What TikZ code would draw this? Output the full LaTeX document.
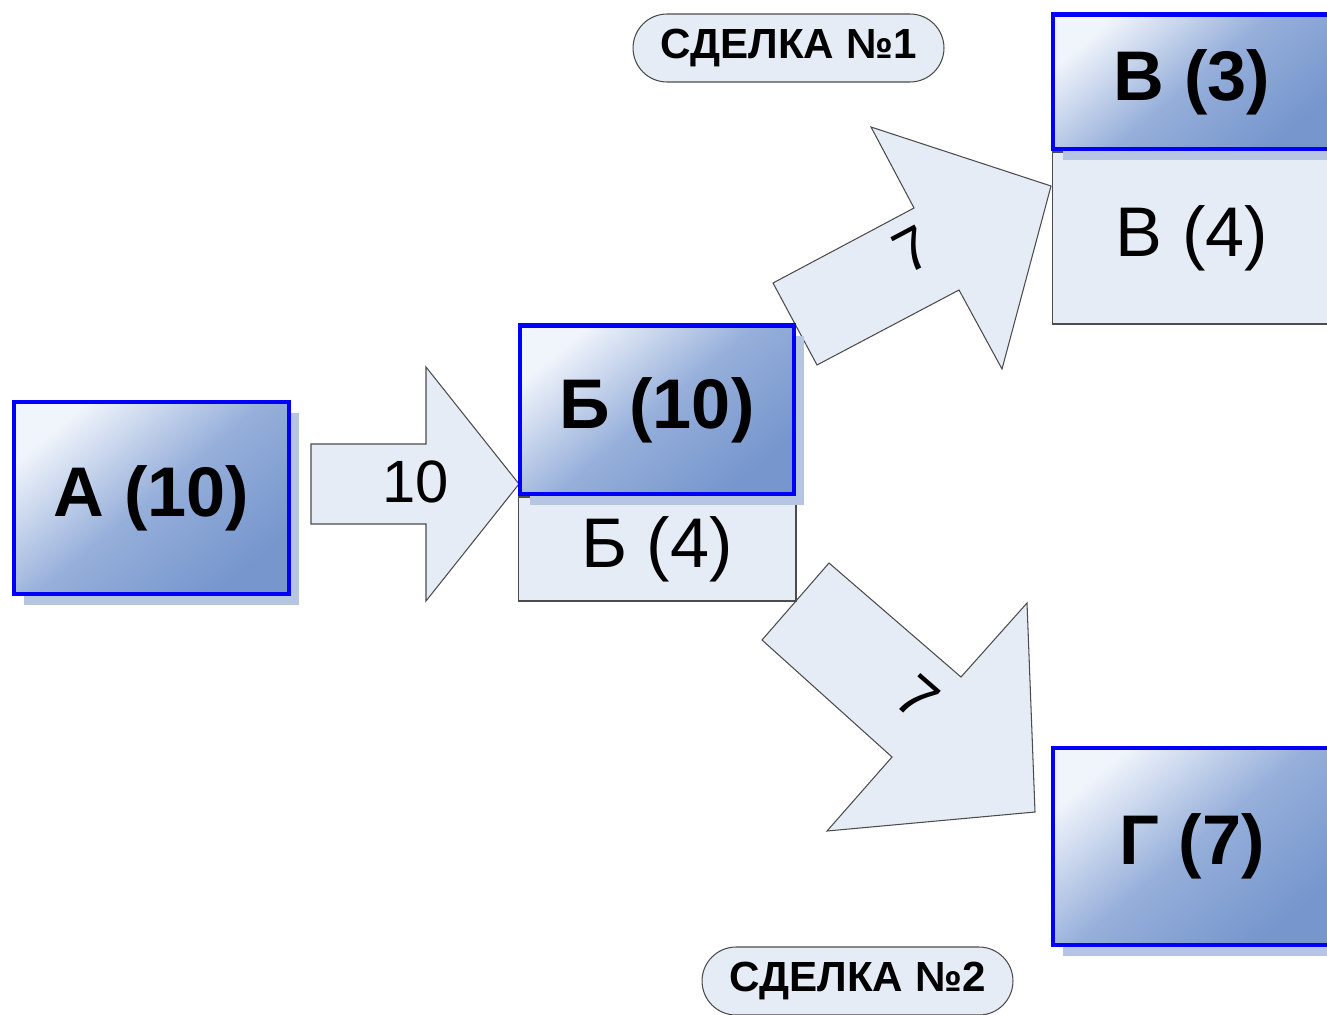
\documentclass[tikz,border=0pt]{standalone}
\usepackage{fontspec}
\setmainfont{Liberation Sans}
\usepackage{tikz}
\usetikzlibrary{positioning}
\usetikzlibrary{shadows}
\definecolor{lightfill}{RGB}{230,236,246}
\definecolor{shadowblue}{RGB}{182,198,226}
\definecolor{gradtop}{RGB}{240,244,251}
\definecolor{gradmid}{RGB}{150,175,218}
\definecolor{gradbot}{RGB}{118,150,205}
\definecolor{edgeblue}{RGB}{0,0,250}
\tikzset{%
  deal/.style = {rectangle,draw=edgeblue,line width=2.4pt,text=black,
        font=\fontsize{40}{48}\selectfont\bfseries,
        top color=gradtop,bottom color=gradbot,middle color=gradmid,
        shading angle=40,
        drop shadow={shadow xshift=0.2cm,shadow yshift=-0.22cm,
        fill=shadowblue,opacity=1}},
  rest/.style = {rectangle,draw=black!70,fill=lightfill,line width=0.6pt,
        font=\fontsize{40}{48}\selectfont},
  bigarrow/.style = {draw=black!70,fill=lightfill,line width=0.6pt,
        line join=miter},
  num/.style = {font=\fontsize{34}{40}\selectfont},
  tag/.style = {rectangle,rounded corners=0.68cm,draw=black!70,
        fill=lightfill,line width=0.6pt,minimum width=6.22cm,
        minimum height=1.36cm,font=\fontsize{24}{28}\selectfont\bfseries}
}
\begin{document}
\begin{tikzpicture}[x=0.02cm,y=-0.02cm]
                \useasboundingbox (0,0) rectangle (1327,1014);
                \clip (0,0) rectangle (1327,1014);
                % block arrows
                \draw[bigarrow] (311,444) -- (426,444) -- (426,367) -- (519,484)
                    -- (426,601) -- (426,524) -- (311,524) -- cycle;
                \draw[bigarrow] (773,283) -- (914,208) -- (871,127) -- (1051,186)
                    -- (1002,369) -- (959,290) -- (817,365) -- cycle;
                \draw[bigarrow] (829,563) -- (961,677) -- (1027,603) -- (1035,812)
                    -- (827,831) -- (892,757) -- (762,640) -- cycle;
                \node[num] (n10) at (416,482) {10};
                \node[num,rotate=28] (n7a) at (913,250) {7};
                \node[num,rotate=-41] (n7b) at (918,698) {7};
                % boxes
                \node[deal,minimum width=5.5cm,minimum height=3.84cm] (a10) at (151.5,498) {А (10)};
                \node[rest,minimum width=5.56cm,minimum height=2.08cm] (b4) at (657,549) {Б (4)};
                \node[deal,minimum width=5.48cm,minimum height=3.38cm] (b10) [above=0pt of b4] {Б (10)};
                \node[rest,minimum width=5.6cm,minimum height=3.44cm] (v4) at (1192,238) {В (4)};
                \node[deal,minimum width=5.56cm,minimum height=2.7cm] (v3) [above=0pt of v4] {В (3)};
                \node[deal,minimum width=5.56cm,minimum height=3.94cm] (g7) at (1192,846.5) {Г (7)};
                % deals
                \node[tag] (deal1) at (788.5,48) {СДЕЛКА №1};
                \node[tag] (deal2) at (857.5,981) {СДЕЛКА №2};
            \end{tikzpicture}
\end{document}
